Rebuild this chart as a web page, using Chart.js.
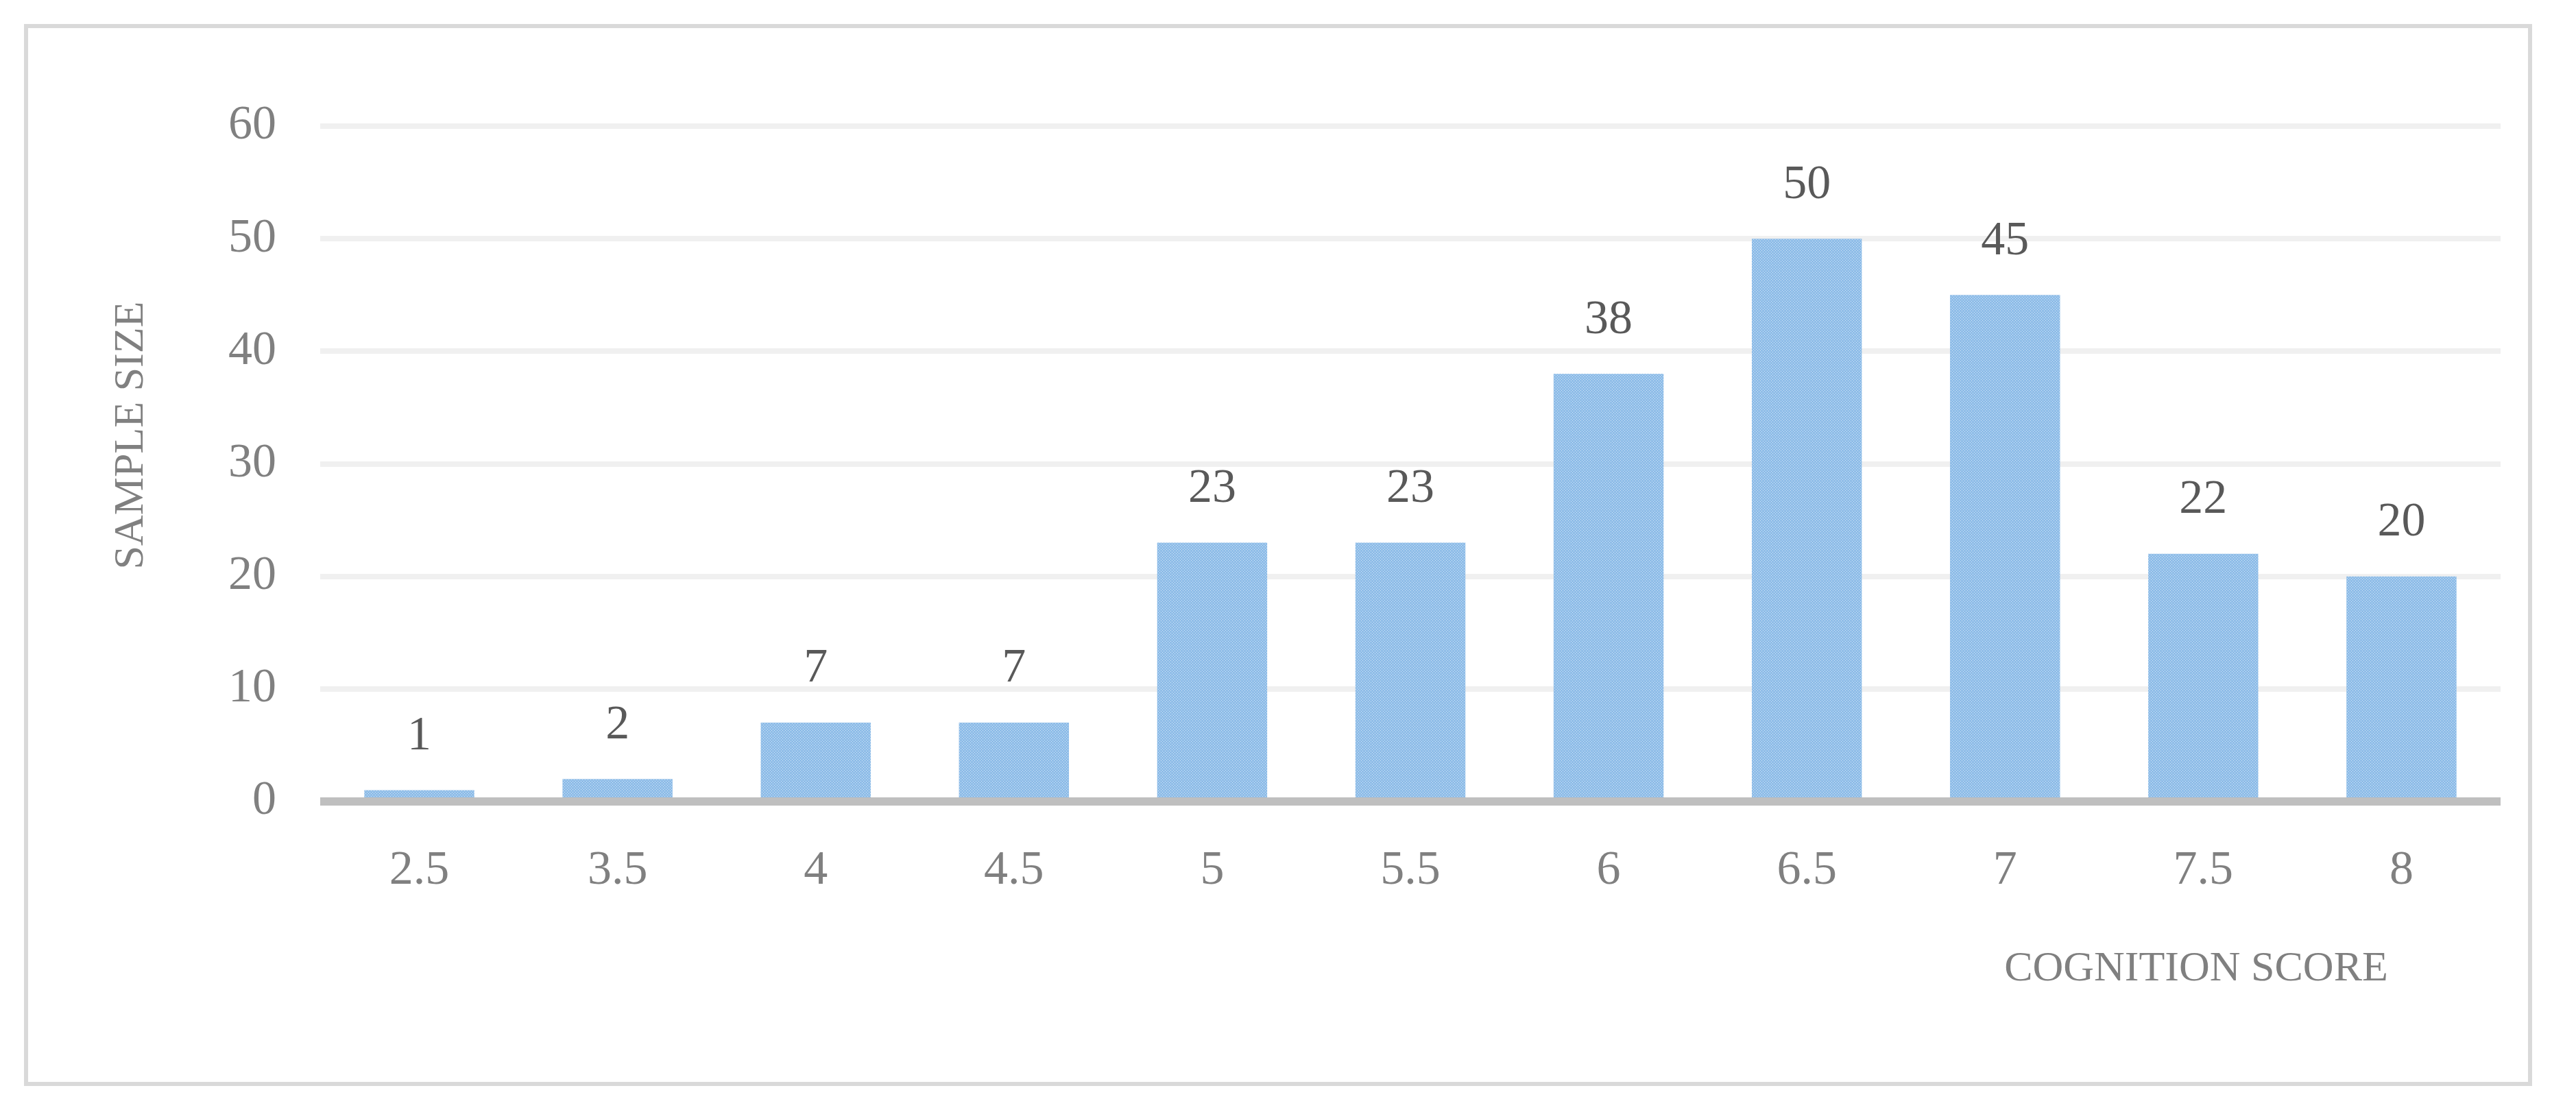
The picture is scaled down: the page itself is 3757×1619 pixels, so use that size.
<!DOCTYPE html>
<html>
<head>
<meta charset="utf-8">
<script src="https://cdn.jsdelivr.net/npm/chart.js@4"></script>
<style>
  html, body { margin: 0; padding: 0; background: #fff; }
  #wrap { width: 3757px; height: 1619px; }
</style>
</head>
<body>
<div id="wrap"><canvas id="grafic" width="3757" height="1619"></canvas></div>
<script>
const scoreLabels = ["2.5", "3.5", "4", "4.5", "5", "5.5", "6", "6.5", "7", "7.5", "8"];
const sampleSize = [1, 2, 7, 7, 23, 23, 38, 50, 45, 22, 20];
const yTicks = [0, 10, 20, 30, 40, 50, 60];
const xTitle = "COGNITION SCORE";
const yTitle = "SAMPLE SIZE";

const fontFam = "'Liberation Serif', 'DejaVu Serif', serif";

// dotted blue fill like the original
function makePattern() {
  const p = document.createElement("canvas");
  p.width = 4;
  p.height = 4;
  const c = p.getContext("2d");
  c.fillStyle = "#8fbde8";
  c.fillRect(0, 0, 4, 4);
  c.fillStyle = "#d6e7f7";
  c.fillRect(1, 1, 1, 1);
  c.fillRect(3, 3, 1, 1);
  return c.createPattern(p, "repeat");
}

const extras = {
  id: "extras",
  beforeDraw(chart) {
    const ctx = chart.ctx;
    ctx.save();
    ctx.fillStyle = "#fff";
    ctx.fillRect(0, 0, chart.width, chart.height);
    ctx.strokeStyle = "#d9d9d9";
    ctx.lineWidth = 6;
    ctx.strokeRect(38, 38, 3652, 1543);
    ctx.restore();
  },
  afterDatasetsDraw(chart) {
    const ctx = chart.ctx;
    const meta = chart.getDatasetMeta(0);
    ctx.save();
    ctx.font = "70px " + fontFam;
    ctx.fillStyle = "#595959";
    ctx.textAlign = "center";
    ctx.textBaseline = "middle";
    meta.data.forEach((bar, i) => {
      ctx.fillText(String(sampleSize[i]), bar.x, bar.y - 78);
    });
    ctx.fillStyle = "#808080";
    ctx.font = "62px " + fontFam;
    ctx.fillText(xTitle, 3203, 1414);
    ctx.translate(192, 635);
    ctx.rotate(-Math.PI / 2);
    ctx.fillText(yTitle, 0, 0);
    ctx.restore();
  }
};

new Chart(document.getElementById("grafic").getContext("2d"), {
  type: "bar",
  data: {
    labels: scoreLabels,
    datasets: [{
      data: sampleSize,
      backgroundColor: makePattern(),
      barPercentage: 0.555,
      categoryPercentage: 1
    }]
  },
  options: {
    responsive: false,
    animation: false,
    layout: { padding: { left: 0, right: 110, top: 184, bottom: 0 } },
    plugins: { legend: { display: false }, tooltip: { enabled: false } },
    scales: {
      x: {
        grid: { display: false },
        border: { display: false },
        ticks: { color: "#808080", font: { family: fontFam, size: 70 }, padding: 52 },
        afterFit(s) { s.height = 1619 - 1169; }
      },
      y: {
        min: 0,
        max: 60,
        afterBuildTicks(s) { s.ticks = yTicks.map(v => ({ value: v })); },
        grid: {
          drawTicks: false,
          color: c => (c.tick && c.tick.value === 0 ? "#bfbfbf" : "#f0f0f0"),
          lineWidth: c => (c.tick && c.tick.value === 0 ? 12 : 8)
        },
        border: { display: false },
        ticks: { color: "#808080", font: { family: fontFam, size: 70 }, padding: 64 },
        afterFit(s) { s.width = 467; }
      }
    }
  },
  plugins: [extras]
});
</script>
</body>
</html>
